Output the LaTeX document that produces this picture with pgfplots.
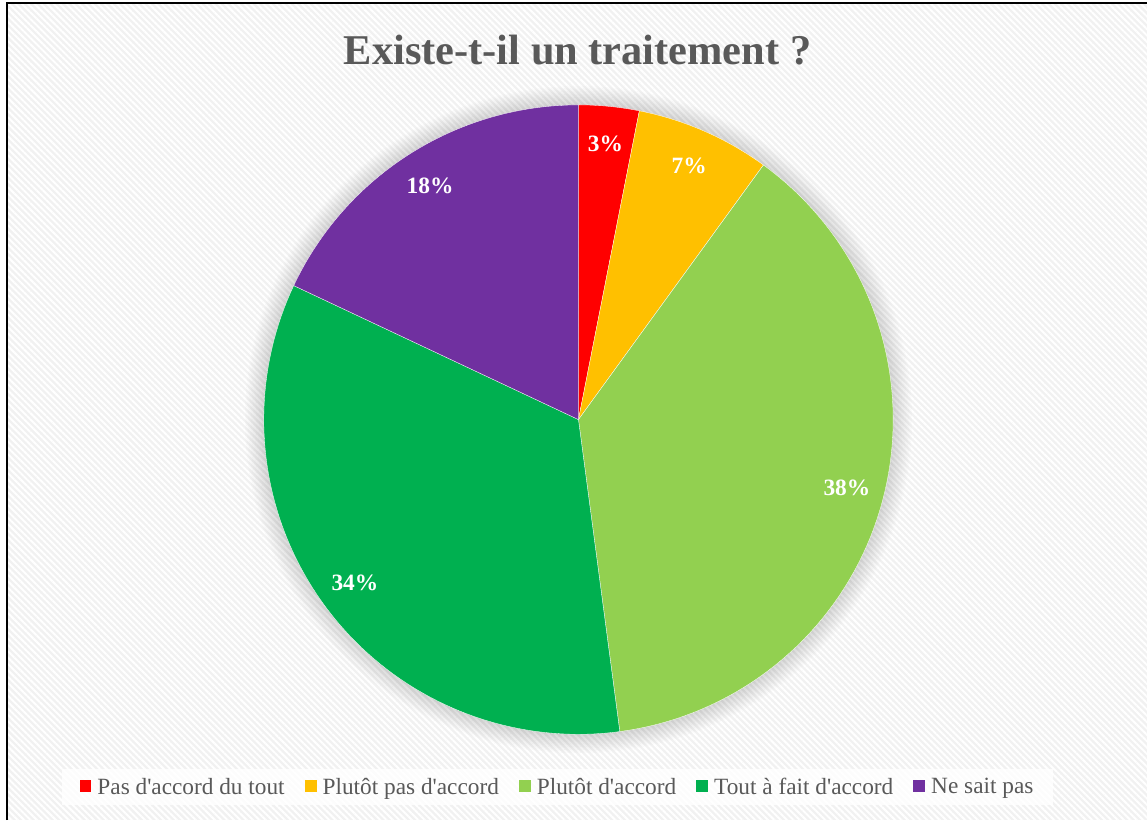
\documentclass[border=0pt]{standalone}
\usepackage{fontspec}
\setmainfont{Liberation Serif}
\usepackage{pgfplots}
\usepackage{pgfplotstable}
\pgfplotsset{compat=1.18}
\usetikzlibrary{patterns.meta}
\definecolor{cRed}{HTML}{FF0000}
\definecolor{cYel}{HTML}{FFC000}
\definecolor{cLgr}{HTML}{92D050}
\definecolor{cGrn}{HTML}{00B050}
\definecolor{cPur}{HTML}{7030A0}
\definecolor{txtgray}{HTML}{595959}
\definecolor{bggray}{HTML}{F1F1F1}
\pgfplotstableread{
idx value
0 3.1
1 6.9
2 37.9
3 34.1
4 18.0
}\pietable
\pgfplotstablegetelem{0}{value}\of\pietable\edef\vA{\pgfplotsretval}%
\pgfplotstablegetelem{1}{value}\of\pietable\edef\vB{\pgfplotsretval}%
\pgfplotstablegetelem{2}{value}\of\pietable\edef\vC{\pgfplotsretval}%
\pgfplotstablegetelem{3}{value}\of\pietable\edef\vD{\pgfplotsretval}%
\pgfplotstablegetelem{4}{value}\of\pietable\edef\vE{\pgfplotsretval}%
\pgfmathsetmacro\aA{90}%
\pgfmathsetmacro\aB{\aA-3.6*\vA}%
\pgfmathsetmacro\aC{\aB-3.6*\vB}%
\pgfmathsetmacro\aD{\aC-3.6*\vC}%
\pgfmathsetmacro\aE{\aD-3.6*\vD}%
\pgfmathsetmacro\aF{\aE-3.6*\vE}%
\pgfmathsetmacro\lr{0.88}%
\pgfmathsetmacro\xA{\lr*cos((\aA+\aB)/2)}\pgfmathsetmacro\yA{\lr*sin((\aA+\aB)/2)}%
\pgfmathsetmacro\xB{\lr*cos((\aB+\aC)/2)}\pgfmathsetmacro\yB{\lr*sin((\aB+\aC)/2)}%
\pgfmathsetmacro\xC{\lr*cos((\aC+\aD)/2)}\pgfmathsetmacro\yC{\lr*sin((\aC+\aD)/2)}%
\pgfmathsetmacro\xD{\lr*cos((\aD+\aE)/2)}\pgfmathsetmacro\yD{\lr*sin((\aD+\aE)/2)}%
\pgfmathsetmacro\xE{\lr*cos((\aE+\aF)/2)}\pgfmathsetmacro\yE{\lr*sin((\aE+\aF)/2)}%
\begin{document}
\begin{tikzpicture}
\begin{axis}[
  hide axis, clip=false,
  x=315bp, y=315bp,
  xmin=-1.8381, xmax=1.8063, ymin=-1.2730, ymax=1.3333,
  legend columns=-1,
  legend image code/.code={\fill[#1,draw=none,fill opacity=1] (0bp,-5bp) rectangle (12bp,7bp);},
  legend style={at={(axis cs:-0.0667,-1.167)}, anchor=center, draw=none,
    fill=white, fill opacity=0.8, text opacity=1,
    font=\fontsize{23.4}{27}\selectfont, text=txtgray,
    inner xsep=18bp, inner ysep=7bp,
    /tikz/every odd column/.append style={column sep=4bp},
    /tikz/every even column/.append style={column sep=18bp}},
  slice/.style={draw=white, line width=0.3bp, samples=80},
]
% background
\fill[white] (axis cs:-1.8381,-1.2730) rectangle (axis cs:1.8063,1.3333);
\fill[bggray] (axis cs:-1.8159,-1.2730) rectangle (axis cs:1.8063,1.3238);
\fill[pattern={Lines[angle=-45,distance=4.5bp,line width=2bp]}, pattern color=white]
  (axis cs:-1.8159,-1.2730) rectangle (axis cs:1.8063,1.3238);
\draw[black, line width=2.2bp] (axis cs:-1.8159,-1.2730) -- (axis cs:-1.8159,1.3238) -- (axis cs:1.8063,1.3238);
% glow
\pgfplotsinvokeforeach{1,...,12}{\fill[black, opacity=0.013] (axis cs:0,0) circle[radius={315bp*(1+#1*0.005)}];}
% slices
\addplot[slice, fill=cRed, domain=\aB:\aA] ({cos(x)},{sin(x)}) -- (axis cs:0,0) -- cycle;
\addlegendentry{Pas d\textquotesingle accord du tout}
\addplot[slice, fill=cYel, domain=\aC:\aB] ({cos(x)},{sin(x)}) -- (axis cs:0,0) -- cycle;
\addlegendentry{Plutôt pas d\textquotesingle accord}
\addplot[slice, fill=cLgr, domain=\aD:\aC] ({cos(x)},{sin(x)}) -- (axis cs:0,0) -- cycle;
\addlegendentry{Plutôt d\textquotesingle accord}
\addplot[slice, fill=cGrn, domain=\aE:\aD] ({cos(x)},{sin(x)}) -- (axis cs:0,0) -- cycle;
\addlegendentry{Tout à fait d\textquotesingle accord}
\addplot[slice, fill=cPur, domain=\aF:\aE] ({cos(x)},{sin(x)}) -- (axis cs:0,0) -- cycle;
\addlegendentry{Ne sait pas}
% labels
\begin{scope}[every node/.style={font=\fontsize{23.5}{27}\selectfont\bfseries, text=white}]
\node at (axis cs:\xA,\yA) {3\%};
\node at (axis cs:\xB,\yB) {7\%};
\node at (axis cs:\xC,\yC) {38\%};
\node at (axis cs:\xD,\yD) {34\%};
\node at (axis cs:\xE,\yE) {18\%};
\end{scope}
% title
\node[font=\fontsize{42.6}{48}\selectfont\bfseries, text=txtgray] at (axis cs:-0.003,1.175) {Existe-t-il un traitement ?};
\end{axis}
\end{tikzpicture}
\end{document}
